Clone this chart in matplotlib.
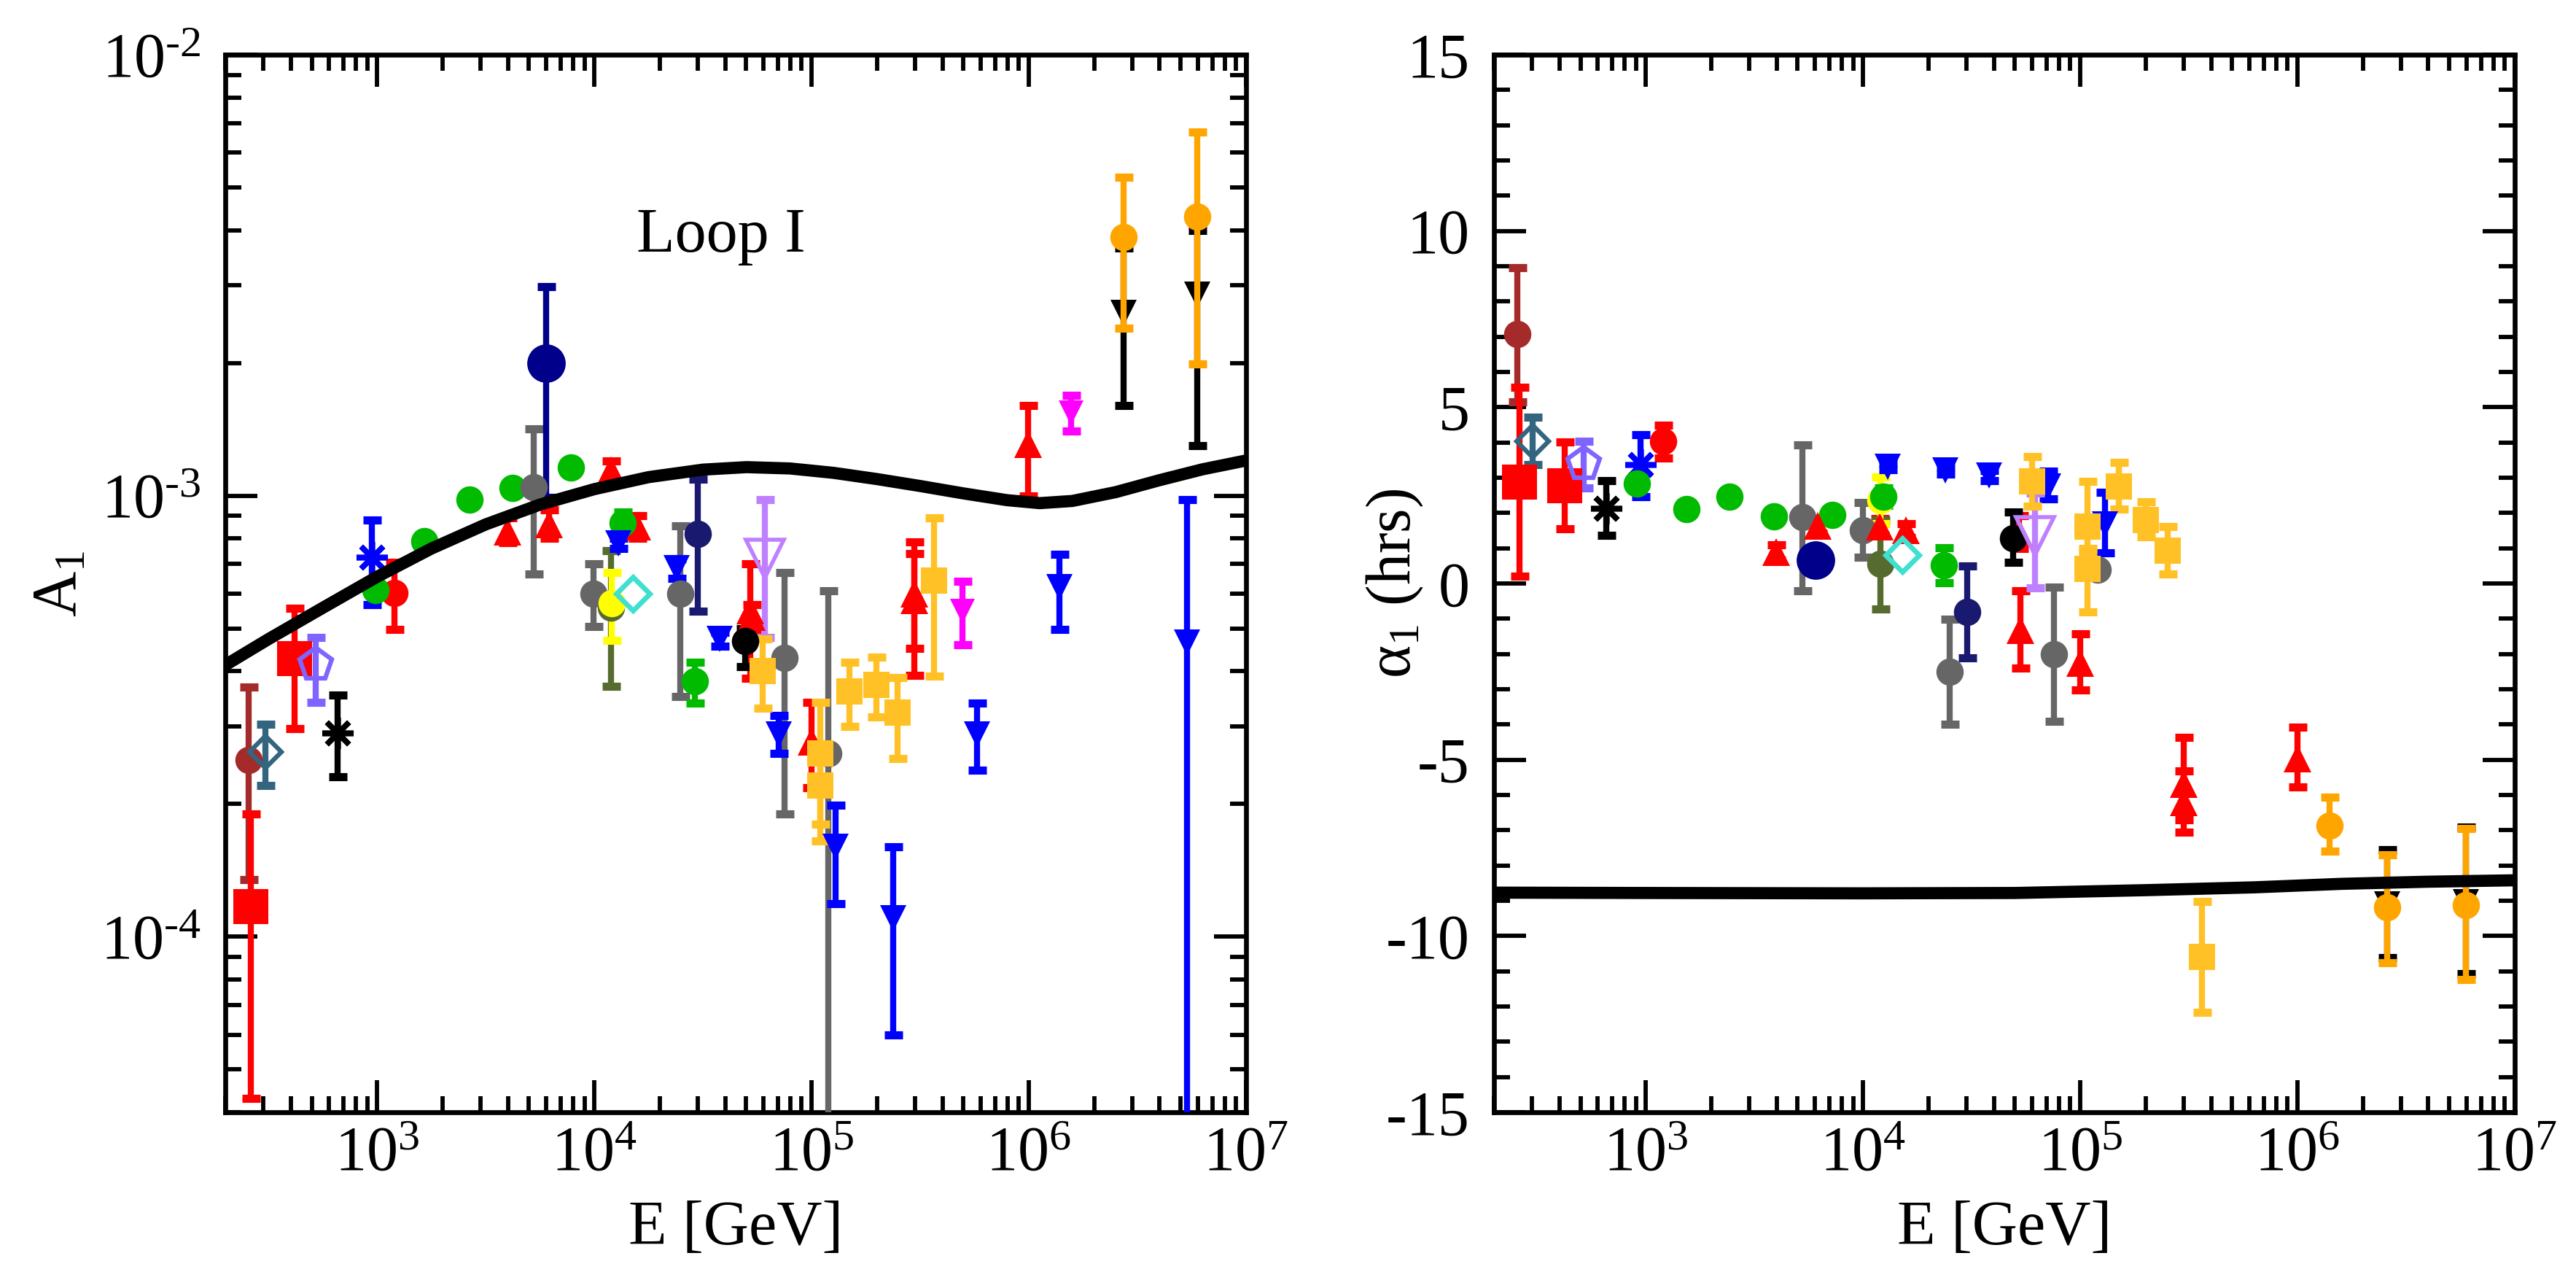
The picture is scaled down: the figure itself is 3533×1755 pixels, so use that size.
import numpy as np
import matplotlib
matplotlib.use('Agg')
import matplotlib.pyplot as plt
from matplotlib.ticker import LogLocator, FuncFormatter, MultipleLocator, NullFormatter

plt.rcParams['font.family'] = ['Liberation Serif', 'DejaVu Serif']
plt.rcParams['mathtext.fontset'] = 'custom'
plt.rcParams['mathtext.rm'] = 'Liberation Serif'
plt.rcParams['mathtext.it'] = 'Liberation Serif:italic'
plt.rcParams['mathtext.bf'] = 'Liberation Serif:bold'
plt.rcParams['axes.unicode_minus'] = False

# ---- data: left panel = amplitude A1, right panel = phase alpha1 (hrs) ----
brown_E_l = [257];  brown_A = [2.52e-4];  brown_A_hi = [3.68e-4];  brown_A_lo = [1.35e-4]
brown_E_r = [257];  brown_ph = [7.07];  brown_ph_hi = [8.96];  brown_ph_lo = [5.15]

redsq_E_l = [262, 416];  redsq_A = [1.17e-4, 4.27e-4]
redsq_A_hi = [1.90e-4, 5.55e-4];  redsq_A_lo = [4.3e-5, 2.96e-4]
redsq_E_r = [262, 422];  redsq_ph = [2.87, 2.78];  redsq_ph_hi = [5.56, 4.01];  redsq_ph_lo = [0.21, 1.55]

steel_E_l = [305];  steel_A = [2.62e-4];  steel_A_hi = [3.03e-4];  steel_A_lo = [2.20e-4]
steel_E_r = [301];  steel_ph = [4.04];  steel_ph_hi = [4.72];  steel_ph_lo = [3.37]

pent_E_l = [520];  pent_A = [4.15e-4];  pent_A_hi = [4.78e-4];  pent_A_lo = [3.40e-4]
pent_E_r = [516];  pent_ph = [3.40];  pent_ph_hi = [4.03];  pent_ph_lo = [2.70]

kast_E_l = [658];  kast_A = [2.90e-4];  kast_A_hi = [3.53e-4];  kast_A_lo = [2.31e-4]
kast_E_r = [655];  kast_ph = [2.14];  kast_ph_hi = [2.92];  kast_ph_lo = [1.36]

bast_E_l = [944];  bast_A = [7.26e-4];  bast_A_hi = [8.80e-4];  bast_A_lo = [5.67e-4]
bast_E_r = [948];  bast_ph = [3.37];  bast_ph_hi = [4.22];  bast_ph_lo = [2.46]

rcirc_E_l = [1199];  rcirc_A = [6.02e-4];  rcirc_A_hi = [7.05e-4];  rcirc_A_lo = [4.98e-4]
rcirc_E_r = [1197];  rcirc_ph = [4.03];  rcirc_ph_hi = [4.49];  rcirc_ph_lo = [3.56]

green_E_l = [981, 1644, 2655, 4210, 7790]
green_A = [6.1e-4, 7.9e-4, 9.8e-4, 1.04e-3, 1.16e-3]
green_E_r = [912, 1538, 2426, 3882, 7190]
green_ph = [2.83, 2.11, 2.46, 1.90, 1.95]

greene_E_l = [13550, 29000];  greene_A = [8.67e-4, 3.79e-4]
greene_A_hi = [9.2e-4, 4.2e-4];  greene_A_lo = [8.2e-4, 3.39e-4]
greene_E_r = [12400, 23600];  greene_ph = [2.46, 0.52]
greene_ph_hi = [2.70, 1.02];  greene_ph_lo = [2.22, 0.02]

gray_E_l = [5260, 9930, 24900, 75000, 1.19e5]
gray_A = [1.045e-3, 6.0e-4, 6.0e-4, 4.29e-4, 2.6e-4]
gray_A_hi = [1.42e-3, 7.0e-4, 8.53e-4, 6.7e-4, 6.08e-4]
gray_A_lo = [6.64e-4, 5.05e-4, 3.5e-4, 1.9e-4, 3e-5]
gray_E_r = [5260, 9970, 25060, 75400, 1.2e5]
gray_ph = [1.88, 1.52, -2.50, -2.00, 0.39]
gray_ph_hi = [3.94, 2.30, -1.02, -0.11, 0.39]
gray_ph_lo = [-0.21, 0.74, -4.00, -3.91, 0.39]

navy_E_l = [5990];  navy_A = [2.0e-3];  navy_A_hi = [2.98e-3];  navy_A_lo = [9.9e-4]
navy_E_r = [6030];  navy_ph = [0.66]

rtri_E_l = [3985, 6180, 11900, 15700, 52000, 53200, 99800, 2.97e5, 2.97e5, 9.9e5]
rtri_A = [8.3e-4, 8.6e-4, 1.14e-3, 8.5e-4, 5.5e-4, 5.3e-4, 2.77e-4, 6.0e-4, 5.8e-4, 1.31e-3]
rtri_A_hi = [8.9e-4, 9.3e-4, 1.20e-3, 9.0e-4, 7.0e-4, 5.67e-4, 3.4e-4, 7.87e-4, 7.4e-4, 1.6e-3]
rtri_A_lo = [7.84e-4, 8.0e-4, 1.08e-3, 8.0e-4, 3.85e-4, 4.95e-4, 2.18e-4, 3.91e-4, 4.5e-4, 1.0e-3]
rtri_E_r = [3985, 6180, 11900, 15700, 52000, 53200, 1.0e5, 3.0e5, 3.0e5, 1.0e6]
rtri_ph = [0.88, 1.64, 1.61, 1.50, 1.44, -1.32, -2.26, -5.68, -6.20, -4.97]
rtri_ph_hi = [1.10, 1.85, 1.85, 1.70, 1.92, -0.21, -1.43, -4.37, -5.32, -4.07]
rtri_ph_lo = [0.66, 1.43, 1.37, 1.30, 1.00, -2.39, -3.02, -6.70, -7.05, -5.77]

mid_E_l = [29850];  mid_A = [8.18e-4];  mid_A_hi = [1.09e-3];  mid_A_lo = [5.48e-4]
mid_E_r = [30100];  mid_ph = [-0.80];  mid_ph_hi = [0.50];  mid_ph_lo = [-2.11]

olive_E_l = [11900];  olive_A = [5.57e-4];  olive_A_hi = [7.5e-4];  olive_A_lo = [3.7e-4]
olive_E_r = [12000];  olive_ph = [0.55];  olive_ph_hi = [1.80];  olive_ph_lo = [-0.73]

yell_E_l = [12000];  yell_A = [5.7e-4];  yell_A_hi = [6.7e-4];  yell_A_lo = [4.7e-4]
yell_E_r = [12000];  yell_ph = [2.35];  yell_ph_hi = [3.02];  yell_ph_lo = [1.70]

turq_E_l = [15000];  turq_A = [6.0e-4]
turq_E_r = [15100];  turq_ph = [0.81]

btri_E_l = [12850, 23900, 37600, 70500, 1.29e5, 2.38e5, 5.76e5, 1.38e6, 5.33e6]
btri_A = [7.8e-4, 6.84e-4, 4.73e-4, 2.88e-4, 1.6e-4, 1.1e-4, 2.88e-4, 6.2e-4, 4.64e-4]
btri_A_hi = [8.0e-4, 7.2e-4, 4.9e-4, 3.18e-4, 1.99e-4, 1.6e-4, 3.39e-4, 7.36e-4, 9.8e-4]
btri_A_lo = [7.6e-4, 6.5e-4, 4.55e-4, 2.6e-4, 1.19e-4, 6.0e-5, 2.39e-4, 4.98e-4, 3e-5]
btri_E_r = [13000, 24000, 38100, 71300, 1.30e5]
btri_ph = [3.32, 3.20, 3.06, 2.76, 1.67]
btri_ph_hi = [3.42, 3.30, 3.20, 3.19, 2.59]
btri_ph_lo = [3.22, 3.10, 2.92, 2.39, 0.87]

kcirc_E_l = [49300];  kcirc_A = [4.68e-4];  kcirc_A_hi = [5.0e-4];  kcirc_A_lo = [4.1e-4]
kcirc_E_r = [49100];  kcirc_ph = [1.29];  kcirc_ph_hi = [2.02];  kcirc_ph_lo = [0.60]

lav_E_l = [60800];  lav_A = [7.2e-4];  lav_A_hi = [9.8e-4];  lav_A_lo = [4.77e-4]
lav_E_r = [61800];  lav_ph = [1.34];  lav_ph_hi = [2.57];  lav_ph_lo = [-0.13]

gold_E_l = [59400, 1.1e5, 1.1e5, 1.49e5, 1.98e5, 2.48e5, 3.67e5]
gold_A = [4.0e-4, 2.6e-4, 2.2e-4, 3.6e-4, 3.72e-4, 3.22e-4, 6.41e-4]
gold_A_hi = [4.73e-4, 3.4e-4, 2.5e-4, 4.2e-4, 4.3e-4, 3.87e-4, 8.9e-4]
gold_A_lo = [3.3e-4, 1.8e-4, 1.65e-4, 3.0e-4, 3.15e-4, 2.54e-4, 3.9e-4]
gold_E_r = [60100, 1.08e5, 1.08e5, 1.51e5, 2.01e5, 2.52e5, 3.64e5]
gold_ph = [2.90, 1.62, 0.41, 2.76, 1.81, 0.94, -10.59]
gold_ph_hi = [3.60, 2.90, 1.00, 3.43, 2.31, 1.62, -9.02]
gold_ph_lo = [2.19, 0.90, -0.80, 2.10, 1.32, 0.27, -12.16]

mag_E_l = [4.94e5, 1.57e6];  mag_A = [5.47e-4, 1.54e-3]
mag_A_hi = [6.4e-4, 1.69e-3];  mag_A_lo = [4.59e-4, 1.40e-3]

ktri_E_l = [2.73e6, 5.98e6];  ktri_A = [2.6e-3, 2.86e-3]
ktri_A_hi = [3.64e-3, 4.0e-3];  ktri_A_lo = [1.6e-3, 1.3e-3]
ktri_E_r = [2.59e6, 5.98e6];  ktri_ph = [-9.10, -9.05]
ktri_ph_hi = [-7.55, -6.90];  ktri_ph_lo = [-10.61, -11.07]

orng_E_l = [2.73e6, 5.98e6];  orng_A = [3.86e-3, 4.3e-3]
orng_A_hi = [5.28e-3, 6.68e-3];  orng_A_lo = [2.4e-3, 1.99e-3]
orng_E_r = [1.40e6, 2.59e6, 5.98e6];  orng_ph = [-6.86, -9.19, -9.12]
orng_ph_hi = [-6.07, -7.69, -6.95];  orng_ph_lo = [-7.60, -10.75, -11.24]

# model curves (Loop I)
curve_E_l = [200, 316, 562, 1000, 1778, 3162, 5623, 1e4, 17780, 31620, 50120, 79430,
             1.259e5, 1.995e5, 3.162e5, 5.012e5, 7.943e5, 1.122e6, 1.585e6, 2.512e6,
             3.981e6, 6.31e6, 1e7]
curve_A = [4.13e-4, 4.73e-4, 5.57e-4, 6.55e-4, 7.59e-4, 8.61e-4, 9.55e-4, 1.035e-3,
           1.102e-3, 1.146e-3, 1.161e-3, 1.153e-3, 1.127e-3, 1.091e-3, 1.052e-3,
           1.012e-3, 9.77e-4, 9.62e-4, 9.73e-4, 1.019e-3, 1.084e-3, 1.148e-3, 1.202e-3]
curve_E_r = [200, 1e3, 1e4, 5e4, 2e5, 6.3e5, 1.6e6, 4e6, 1e7]
curve_ph = [-8.77, -8.78, -8.79, -8.78, -8.70, -8.62, -8.52, -8.46, -8.42]


def draw(ax, E, val, hi, lo, color, marker, ms, filled=True, mew=0, z=3):
    if hi is not None:
        v = np.array(val, dtype=float)
        yerr = [v - np.array(lo), np.array(hi) - v]
        ax.errorbar(E, val, yerr=yerr, fmt='none', ecolor=color, elinewidth=6,
                    capsize=9, capthick=8, zorder=z)
    ax.plot(E, val, linestyle='none', marker=marker, ms=ms, color=color,
            mfc=color if filled else 'none', mec=color, mew=mew, zorder=z + 0.1)


def pow_label(x, pos):
    n = int(round(np.log10(x)))
    exp = str(abs(n)) if n >= 0 else '\u2010' + str(abs(n))
    return r'$\mathdefault{10^{%s}}$' % exp


W, H = 3533, 1755
fig = plt.figure(figsize=(W / 100, H / 100), dpi=100)
axL = fig.add_axes([309 / W, 1 - 1525 / H, 1400 / W, 1450 / H])
axR = fig.add_axes([2049 / W, 1 - 1525 / H, 1400 / W, 1450 / H])

for ax in (axL, axR):
    ax.set_xscale('log')
    ax.set_xlim(200, 1e7)
    ax.xaxis.set_major_locator(LogLocator(base=10, numticks=20))
    ax.xaxis.set_minor_locator(LogLocator(base=10, subs=np.arange(2, 10), numticks=20))
    ax.xaxis.set_major_formatter(FuncFormatter(pow_label))
    ax.xaxis.set_minor_formatter(NullFormatter())
    ax.tick_params(which='both', direction='in', top=True, right=True, width=4.2,
                   labelsize=62)
    ax.tick_params(which='major', length=32)
    ax.tick_params(which='minor', length=16)
    ax.tick_params(axis='x', pad=14)
    ax.tick_params(axis='y', pad=24)
    for s in ax.spines.values():
        s.set_linewidth(4.8)
    ax.set_xlabel('E [GeV]', fontsize=62)
    ax.xaxis.set_label_coords(0.5, -0.083)

# left panel
axL.set_yscale('log')
axL.set_ylim(4e-5, 1e-2)
axL.yaxis.set_major_locator(LogLocator(base=10, numticks=20))
axL.yaxis.set_minor_locator(LogLocator(base=10, subs=np.arange(2, 10), numticks=20))
axL.yaxis.set_major_formatter(FuncFormatter(pow_label))
axL.yaxis.set_minor_formatter(NullFormatter())
axL.set_ylabel(r'$\mathrm{A}_{1}$', fontsize=62)
axL.yaxis.set_label_coords(-0.133, 0.5)

draw(axL, brown_E_l, brown_A, brown_A_hi, brown_A_lo, '#A52A2A', 'o', 27)
draw(axL, redsq_E_l, redsq_A, redsq_A_hi, redsq_A_lo, '#FF0000', 's', 35)
draw(axL, steel_E_l, steel_A, steel_A_hi, steel_A_lo, '#33657F', 'D', 22, False, 4.5)
draw(axL, pent_E_l, pent_A, pent_A_hi, pent_A_lo, '#8064FF', 'p', 33, False, 4.5)
draw(axL, kast_E_l, kast_A, kast_A_hi, kast_A_lo, 'black', (8, 2, 0), 31, True, 5.5)
draw(axL, bast_E_l, bast_A, bast_A_hi, bast_A_lo, '#0000FF', (8, 2, 0), 31, True, 5.5)
draw(axL, rcirc_E_l, rcirc_A, rcirc_A_hi, rcirc_A_lo, '#FF0000', 'o', 27)
draw(axL, green_E_l, green_A, None, None, '#00BB00', 'o', 27)
draw(axL, gray_E_l, gray_A, gray_A_hi, gray_A_lo, '#666666', 'o', 27)
draw(axL, navy_E_l, navy_A, navy_A_hi, navy_A_lo, '#00008B', 'o', 38)
draw(axL, rtri_E_l, rtri_A, rtri_A_hi, rtri_A_lo, '#FF0000', '^', 27)
draw(axL, greene_E_l, greene_A, greene_A_hi, greene_A_lo, '#00BB00', 'o', 27)
draw(axL, mid_E_l, mid_A, mid_A_hi, mid_A_lo, '#191970', 'o', 27)
draw(axL, olive_E_l, olive_A, olive_A_hi, olive_A_lo, '#556B2F', 'o', 27)
draw(axL, yell_E_l, yell_A, yell_A_hi, yell_A_lo, '#FFFF00', 'o', 27)
draw(axL, turq_E_l, turq_A, None, None, '#40E0D0', 'D', 23, False, 5)
draw(axL, btri_E_l, btri_A, btri_A_hi, btri_A_lo, '#0000FF', 'v', 26)
draw(axL, kcirc_E_l, kcirc_A, kcirc_A_hi, kcirc_A_lo, 'black', 'o', 27)
draw(axL, lav_E_l, lav_A, lav_A_hi, lav_A_lo, '#BF80FF', 'v', 38, False, 4)
draw(axL, gold_E_l, gold_A, gold_A_hi, gold_A_lo, '#FFC125', 's', 26)
draw(axL, mag_E_l, mag_A, mag_A_hi, mag_A_lo, '#FF00FF', 'v', 24)
draw(axL, ktri_E_l, ktri_A, ktri_A_hi, ktri_A_lo, 'black', 'v', 26)
draw(axL, orng_E_l, orng_A, orng_A_hi, orng_A_lo, '#FFA500', 'o', 27, z=4)
axL.plot(curve_E_l, curve_A, color='black', lw=12, zorder=10)
axL.text(3.84e4, 3.57e-3, 'Loop I', ha='center', va='baseline', fontsize=62)

# right panel
axR.set_ylim(-15, 15)
axR.yaxis.set_major_locator(MultipleLocator(5))
axR.yaxis.set_minor_locator(MultipleLocator(1))
axR.set_ylabel(r'$\mathrm{\alpha}_{1}$ (hrs)', fontsize=62)
axR.yaxis.set_label_coords(-0.067, 0.5)

draw(axR, brown_E_r, brown_ph, brown_ph_hi, brown_ph_lo, '#A52A2A', 'o', 27)
draw(axR, redsq_E_r, redsq_ph, redsq_ph_hi, redsq_ph_lo, '#FF0000', 's', 35)
draw(axR, steel_E_r, steel_ph, steel_ph_hi, steel_ph_lo, '#33657F', 'D', 22, False, 4.5)
draw(axR, pent_E_r, pent_ph, pent_ph_hi, pent_ph_lo, '#8064FF', 'p', 33, False, 4.5)
draw(axR, kast_E_r, kast_ph, kast_ph_hi, kast_ph_lo, 'black', (8, 2, 0), 31, True, 5.5)
draw(axR, bast_E_r, bast_ph, bast_ph_hi, bast_ph_lo, '#0000FF', (8, 2, 0), 31, True, 5.5)
draw(axR, rcirc_E_r, rcirc_ph, rcirc_ph_hi, rcirc_ph_lo, '#FF0000', 'o', 27)
draw(axR, green_E_r, green_ph, None, None, '#00BB00', 'o', 27)
draw(axR, gray_E_r, gray_ph, gray_ph_hi, gray_ph_lo, '#666666', 'o', 27)
draw(axR, navy_E_r, navy_ph, None, None, '#00008B', 'o', 38)
draw(axR, rtri_E_r, rtri_ph, rtri_ph_hi, rtri_ph_lo, '#FF0000', '^', 27)
draw(axR, olive_E_r, olive_ph, olive_ph_hi, olive_ph_lo, '#556B2F', 'o', 27)
draw(axR, yell_E_r, yell_ph, yell_ph_hi, yell_ph_lo, '#FFFF00', 'o', 27)
draw(axR, greene_E_r, greene_ph, greene_ph_hi, greene_ph_lo, '#00BB00', 'o', 27)
draw(axR, mid_E_r, mid_ph, mid_ph_hi, mid_ph_lo, '#191970', 'o', 27)
draw(axR, turq_E_r, turq_ph, None, None, '#40E0D0', 'D', 23, False, 5)
draw(axR, btri_E_r, btri_ph, btri_ph_hi, btri_ph_lo, '#0000FF', 'v', 26)
draw(axR, kcirc_E_r, kcirc_ph, kcirc_ph_hi, kcirc_ph_lo, 'black', 'o', 27)
draw(axR, lav_E_r, lav_ph, lav_ph_hi, lav_ph_lo, '#BF80FF', 'v', 38, False, 4)
draw(axR, gold_E_r, gold_ph, gold_ph_hi, gold_ph_lo, '#FFC125', 's', 26)
draw(axR, ktri_E_r, ktri_ph, ktri_ph_hi, ktri_ph_lo, 'black', 'v', 26)
draw(axR, orng_E_r, orng_ph, orng_ph_hi, orng_ph_lo, '#FFA500', 'o', 27, z=4)
axR.plot(curve_E_r, curve_ph, color='black', lw=12, zorder=10)

fig.savefig('out.png', dpi=100)
